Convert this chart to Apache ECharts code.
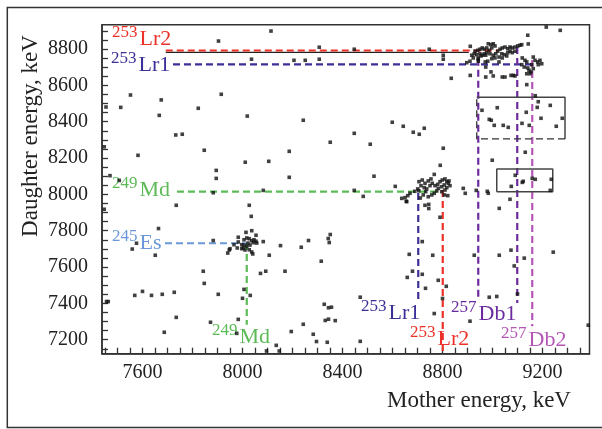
<!DOCTYPE html>
<html><head><meta charset="utf-8">
<script src="https://cdn.jsdelivr.net/npm/echarts@6/dist/echarts.min.js"></script>
<style>html,body{margin:0;padding:0;background:#fff}#c{width:602px;height:429px}</style>
</head><body><div id="c"></div>
<script>
// ---- tick labels ----
const xLabelValues = [7600, 8000, 8400, 8800, 9200];
const yLabelValues = [7200, 7400, 7600, 7800, 8000, 8200, 8400, 8600, 8800];
const xRange = [7438, 9388];
const yRange = [7123, 8934];

// ---- events (mother energy keV, daughter energy keV) ----
const scatteredEvents = [
[7904,8844],[8114,8899],[8036,8744],[8206,8738],[8251,8738],[8307,8744],[8307,8810],[8447,8799],
[7552,8547],[7915,8551],[7675,8520],[7454,8481],[7513,8479],[7823,8474],[7667,8435],[8019,8431],
[7733,8327],[7759,8331],[7447,8262],[7582,8215],[7847,8243],[8011,8177],[8187,8237],[8105,8182],
[7895,8132],[7895,8088],[8187,8094],[7470,8103],[7507,8077],[8083,8022],[7883,8009],[7447,7918],
[7735,7940],[8027,7940],[8035,7879],
[8243,8408],[8599,8397],[8643,8375],[8727,8364],[8683,8342],[8707,8331],[8447,8336],[8351,8287],[8511,8276],
[8803,8254],[8791,8160],[8767,8110],[8526,8100],[8611,8044],[8483,7989],[8447,8022],
[8835,8639],[8803,8766],[8803,8744],[8747,8799],[8911,8815],[8911,8655],
[9141,8876],[9143,8828],[9215,8921],[9271,8903]
];
const boxEvents = [
[9137,8604],[9171,8543],[9183,8510],[9231,8490],[9179,8479],[9019,8477],[8958,8463],[9135,8452],[9194,8419],
[9279,8419],[8987,8413],[8995,8408],[9118,8391],[9147,8380],[9007,8380],[9043,8380],[9063,8369],[9255,8375],
[9131,8232],[8999,8188],[9091,8105],[9119,8066],[9123,8072],[9171,8083],[9159,8088],[9235,8083],[9075,8044],
[9231,8022],[9070,7973],[9027,7923],[8883,8033],[8891,8006],[8935,8022],[8979,8017],[8983,8006]
];
const lowerEvents = [
[7664,7812],[7576,7731],[7559,7699],[7651,7665],[7883,7746],[8152,7718],[8107,7665],[8170,7577],[8072,7565],
[8093,7577],[7843,7577],[7847,7510],[8006,7477],[8000,7428],[8031,7444],[7903,7450],[7569,7444],[7600,7466],
[7636,7444],[7679,7450],[7727,7461],[7456,7410],[7463,7410],[7735,7323],[7872,7296],[7983,7312],[7687,7241],
[7977,7235],[8195,7245],[8096,7138],[8147,7138],[8135,7169],[8083,7740],
[8235,7709],[8264,7746],[8343,7757],[8351,7779],[8347,7735],[8315,7632],[8471,7434],[8327,7395],[8344,7376],
[8356,7379],[8331,7306],[8344,7313],[8371,7305],[8243,7285],[8283,7230],[8296,7190],[8339,7186],[8471,7191],
[8667,7670],[8761,7665],[8719,7740],[8680,7577],[8659,7543],[8719,7560],[8732,7483],[8783,7527],[8815,7494],
[8800,7427],[8767,7344],[8910,7302],[9383,7280],[8927,7665],[9027,7665],[9074,7693],[9127,7649],[9087,7606],
[9243,7682],[8987,7434],[9017,7438],[9100,7452],[8790,7874],[8730,7940],[8745,7945],[8745,7922],[8657,7960]
];
const es245Cluster = [
[8014,7791],[8037,7800],[7983,7764],[8006,7750],[8017,7760],[8027,7756],[8037,7745],[8046,7750],[8054,7742],
[8057,7732],[7983,7738],[7997,7723],[7979,7705],[7997,7701],[8017,7714],[8027,7695],[8037,7683],[8041,7672],
[7950,7701],[7941,7677],[7966,7723],[8003,7705],[8054,7775],[8010,7694],[8043,7734],[7947,7694],[8022,7732],
[8030,7721],[8006,7721]
];
const md249Cluster = [
[8706,8070],[8719,8079],[8730,8061],[8743,8074],[8754,8085],[8714,8048],[8701,8030],[8727,8037],[8737,8030],
[8750,8048],[8759,8061],[8770,8048],[8781,8055],[8790,8070],[8799,8079],[8810,8085],[8817,8070],[8823,8061],
[8826,8074],[8807,8052],[8797,8042],[8783,8033],[8777,8019],[8767,8006],[8757,7997],[8743,7987],[8733,8015],
[8723,7997],[8797,8015],[8810,8024],[8817,8037],[8807,7997],[8821,7993],[8830,8048],[8661,7993],[8650,7982],
[8670,8006],[8637,7978],[8689,8017],[8705,8020],[8711,7980],[8655,7962]
];
const lr253Cluster = [
[8930,8788],[8941,8793],[8950,8799],[8959,8806],[8967,8799],[8977,8806],[8983,8829],[8994,8824],[9003,8829],
[9010,8817],[8997,8806],[8986,8793],[8977,8780],[8967,8774],[8959,8766],[8950,8774],[8937,8769],[8927,8774],
[8917,8766],[8923,8751],[8943,8751],[8954,8762],[8973,8766],[8990,8774],[9003,8766],[9013,8774],[9021,8788],
[9030,8799],[9039,8806],[9050,8811],[9061,8802],[9070,8811],[9079,8806],[9090,8811],[9101,8817],[9110,8821],
[9117,8824],[9037,8774],[9047,8769],[9061,8780],[9070,8788],[9079,8780],[9090,8788],[9026,8756],[9039,8751],
[9057,8762],[9010,8751],[8997,8747],[8981,8733],[9026,8729],[8897,8725],[8910,8733],[8943,8733],[8943,8744],
[8971,8729],
[9119,8751],[9130,8738],[9137,8729],[9117,8714],[9127,8701],[9141,8696],[9146,8683],[9154,8674],[9163,8756],
[9170,8738],[9181,8729],[9190,8738],[9197,8719],[9183,8714],[9157,8714],[9150,8664],[9137,8664],[9163,8692],
[8973,8701],[8994,8674],[9003,8652],[8973,8646],[9039,8646],[9050,8646],[9074,8655],[9083,8655],[9090,8652]
];

// ---- correlation guide lines (keV) ----
const lr2Horizontal = [[7693, 8792], [9022, 8792]];
const lr2Solid = [[7693, 8782], [8905, 8782]];
const lr2Vertical = [[8801, 8024], [8801, 7123]];
const lr1Horizontal = [[7722, 8716], [9154, 8716]];
const lr1Vertical = [[8703, 8008], [8703, 7409]];
const mdHorizontal = [[7738, 8015], [8790, 8015]];
const mdVertical = [[8017, 7732], [8017, 7283]];
const esHorizontal = [[7690, 7731], [8018, 7731]];
const db1VerticalA = [[8943, 8747], [8943, 7420]];
const db1VerticalB = [[9099, 8811], [9099, 7402]];
const db2Vertical = [[9159, 8740], [9159, 7274]];
const box1Solid = [[8937, 8534], [9290, 8534], [9290, 8305]];
const box1Dashed = [[9290, 8305], [8937, 8305], [8937, 8534]];
const box2 = [[9017, 8015], [9017, 8140], [9241, 8140], [9241, 8015], [9017, 8015]];

const xTicks = []; for (let v = 7450; v <= 9350; v += 50) xTicks.push(v);
const yTicks = []; for (let v = 7150; v <= 8900; v += 50) yTicks.push(v);

const SERIF = '"Liberation Serif", "Times New Roman", serif';
const C = {
  lr2: '#ec3129', lr1: '#3b2f98', md: '#5dbb57', es: '#6a98d8', db1: '#6b2b9e', db2: '#b456b6'
};

function guide(data, color, dashed, width) {
  return {
    type: 'line', data: data, symbol: 'none', silent: true, z: 2,
    lineStyle: { color: color, width: width || 2.2, type: dashed ? [7, 4] : 'solid' },
    animation: false
  };
}

const chart = echarts.init(document.getElementById('c'));
const txt = (x, y, text, size, color, align) => ({
  type: 'text', x: x, y: y, silent: true,
  style: { text: text, font: size + 'px ' + SERIF, fill: color, align: align || 'left', verticalAlign: 'middle',
           textAlign: align || 'left', textVerticalAlign: 'middle' }
});
const iso = (x, y, mass, name, color) => [
  txt(x, y - 6.5, mass, 17, color),
  txt(x + 27.5, y, name, 22, color)
];

chart.setOption({
  animation: false,
  backgroundColor: '#fff',
  grid: { left: 102, right: 12.5, top: 24.7, bottom: 75.3, show: true, borderColor: '#333', borderWidth: 1.5, containLabel: false },
  xAxis: {
    type: 'value', min: xRange[0], max: xRange[1],
    axisLine: { show: true, onZero: false, lineStyle: { color: '#333', width: 1.5 } },
    axisTick: { show: true, inside: true, length: 6, customValues: xTicks, lineStyle: { color: '#333', width: 1.3 } },
    axisLabel: { customValues: xLabelValues, formatter: v => String(v), fontSize: 20, fontFamily: SERIF, color: '#222', margin: 9 },
    splitLine: { show: false }
  },
  yAxis: {
    type: 'value', min: yRange[0], max: yRange[1],
    axisLine: { show: true, onZero: false, lineStyle: { color: '#333', width: 1.5 } },
    axisTick: { show: true, inside: true, length: 6, customValues: yTicks, lineStyle: { color: '#333', width: 1.3 } },
    axisLabel: { customValues: yLabelValues, formatter: v => String(v), fontSize: 20, fontFamily: SERIF, color: '#222', margin: 14 },
    splitLine: { show: false }
  },
  series: [
    guide(lr2Solid, '#222', false, 1.3),
    guide(lr2Horizontal, C.lr2, true),
    guide(lr2Vertical, C.lr2, true),
    guide(lr1Horizontal, C.lr1, true),
    guide(lr1Vertical, C.lr1, true),
    guide(mdHorizontal, C.md, true),
    guide(mdVertical, C.md, true),
    guide(esHorizontal, C.es, true),
    guide(db1VerticalA, C.db1, true),
    guide(db1VerticalB, C.db1, true),
    guide(db2Vertical, C.db2, true),
    guide(box1Solid, '#444', false, 1.5),
    guide(box1Dashed, '#333', true, 1.3),
    guide(box2, '#444', false, 1.5),
    {
      type: 'scatter', symbol: 'rect', symbolSize: 3.6, z: 5, silent: true,
      itemStyle: { color: '#111' },
      data: [].concat(scatteredEvents, boxEvents, lowerEvents, es245Cluster, md249Cluster, lr253Cluster)
    }
  ],
  graphic: [
    { type: 'rect', silent: true, shape: { x: 7.3, y: 7.5, width: 600, height: 420 },
      style: { fill: 'none', stroke: '#333', lineWidth: 1.5 } },
    txt(479, 400.5, 'Mother energy, keV', 23, '#222', 'center'),
    Object.assign(txt(31, 136, 'Daughter energy, keV', 23, '#222', 'center'), { rotation: Math.PI / 2 }),
    ...iso(112, 39.5, '253', 'Lr2', C.lr2),
    ...iso(111, 65.5, '253', 'Lr1', C.lr1),
    ...iso(112, 190, '249', 'Md', C.md),
    ...iso(112, 243.5, '245', 'Es', C.es),
    ...iso(212, 337, '249', 'Md', C.md),
    ...iso(361, 313.5, '253', 'Lr1', C.lr1),
    ...iso(410, 339.5, '253', 'Lr2', C.lr2),
    ...iso(451, 314.5, '257', 'Db1', C.db1),
    ...iso(501, 340.5, '257', 'Db2', C.db2)
  ]
});
</script></body></html>
